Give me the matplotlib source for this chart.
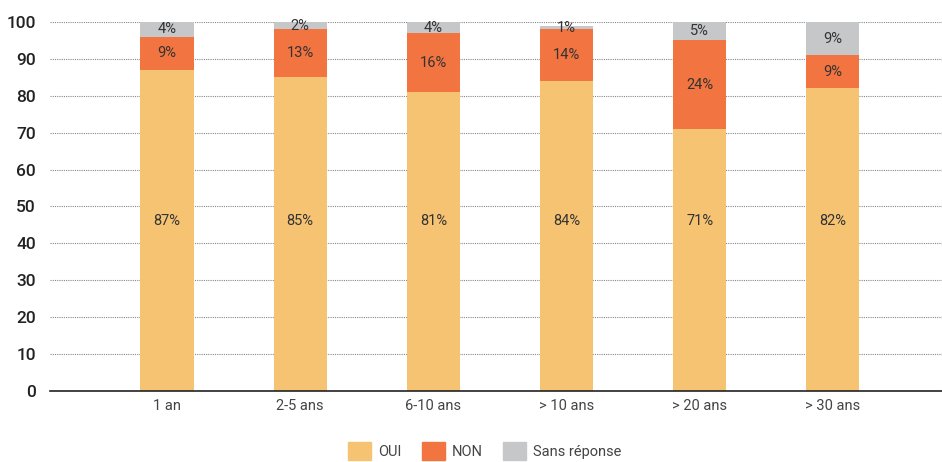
import numpy as np
import matplotlib
matplotlib.use("Agg")
import matplotlib.pyplot as plt
from matplotlib.patches import Patch

plt.rcParams['font.family'] = ['Roboto', 'DejaVu Sans']

categories = ["1 an", "2-5 ans", "6-10 ans", "> 10 ans", "> 20 ans", "> 30 ans"]
oui = [87, 85, 81, 84, 71, 82]
non = [9, 13, 16, 14, 24, 9]
sans_reponse = [4, 2, 4, 1, 5, 9]

series = [("OUI", oui, "#F6C373"),
          ("NON", non, "#F27441"),
          ("Sans réponse", sans_reponse, "#C6C7C9")]

fig = plt.figure(figsize=(9.42, 4.62), dpi=100)
ax = fig.add_axes([0.053, 0.1537, 0.947, 0.7987])

x = np.arange(len(categories))
bottom = np.zeros(len(categories))
for i, (name, vals, col) in enumerate(series):
    vals = np.array(vals, dtype=float)
    ax.bar(x, vals, 0.4, bottom=bottom, color=col, zorder=2)
    for xi, b, v in zip(x, bottom, vals):
        top = min(b + v, 100)
        # first series labels all sit at the same height in the original
        ypos = 46 if i == 0 else (b + top) / 2
        ax.text(xi, ypos, f"{int(v)}%", ha="center", va="center",
                fontsize=10.5, color="#333333", zorder=3)
    bottom += vals

ax.set_ylim(0, 100)
ax.set_xlim(-0.88, 5.82)
ax.set_yticks(np.arange(0, 101, 10))
ax.yaxis.grid(True, linestyle=(0, (1, 1)), color="#888888", linewidth=0.8, zorder=0)
ax.set_axisbelow(True)
for s in ["top", "right", "left"]:
    ax.spines[s].set_visible(False)
ax.spines["bottom"].set_color("#222222")
ax.spines["bottom"].set_linewidth(1.2)
ax.spines["bottom"].set_zorder(4)
ax.tick_params(axis="y", length=0, labelsize=12.5, labelcolor="#222222", pad=10)
ax.tick_params(axis="x", length=0, labelsize=10.5, labelcolor="#444444", pad=6)
for lab in ax.get_yticklabels():
    lab.set_fontweight("medium")
ax.set_xticks(x)
ax.set_xticklabels(categories)

handles = [Patch(color=c, label=n) for n, _, c in series]
fig.legend(handles=handles, loc="center", bbox_to_anchor=(0.515, 0.024), ncol=3,
           frameon=False, fontsize=10.5, handlelength=1.55, handleheight=1.55,
           handletextpad=0.5, columnspacing=1.4, labelcolor="#444444")

fig.savefig("out.png", dpi=100)
